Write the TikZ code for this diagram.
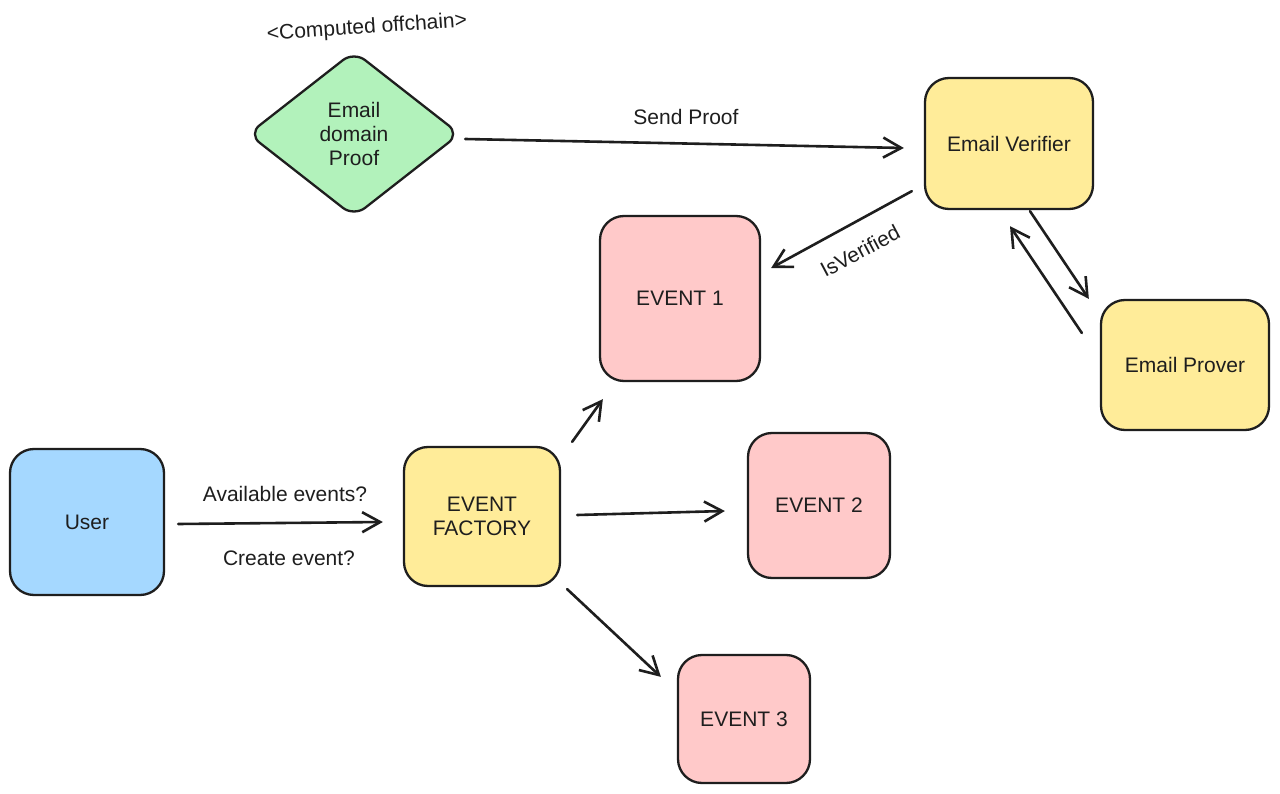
\documentclass[tikz,border=0pt]{standalone}
\usepackage{fontspec}
\setmainfont{Liberation Sans}
\usetikzlibrary{arrows.meta,shapes.geometric,calc}
\definecolor{ink}{HTML}{1E1E1E}
\definecolor{yel}{HTML}{FFEC99}
\definecolor{pnk}{HTML}{FFC9C9}
\definecolor{blu}{HTML}{A5D8FF}
\definecolor{grn}{HTML}{B2F2BB}
\begin{document}
\begin{tikzpicture}[x=1pt,y=-1pt,
  font=\fontsize{21}{24}\selectfont, text=ink,
  box/.style={draw=ink, line width=2.3pt, rounded corners=24pt, align=center, inner sep=0pt},
  conn/.style={draw=ink, line width=2.6pt, line cap=round, -{Straight Barb[length=18pt,width=20pt]}},
  lbl/.style={inner sep=0pt, text=ink}]
\useasboundingbox[fill=white] (0,0) rectangle (1280,794);

% nodes
\node[box, diamond, fill=grn, rounded corners=14pt, minimum width=212pt, minimum height=166pt] (proof) at (354,134) {Email\\domain\\Proof};
\node[box, fill=yel, minimum width=168pt, minimum height=131pt] (ver) at (1009,143.5) {Email Verifier};
\node[box, fill=yel, minimum width=168pt, minimum height=130pt] (prov) at (1185,365) {Email Prover};
\node[box, fill=pnk, minimum width=160pt, minimum height=165pt] (ev1) at (680,298.5) {EVENT 1};
\node[box, fill=pnk, minimum width=142pt, minimum height=145pt] (ev2) at (819,505.5) {EVENT 2};
\node[box, fill=pnk, minimum width=132pt, minimum height=128pt] (ev3) at (744,719) {EVENT 3};
\node[box, fill=yel, minimum width=156pt, minimum height=139pt] (fac) at (482,516.5) {EVENT\\FACTORY};
\node[box, fill=blu, minimum width=154pt, minimum height=146pt] (user) at (87,522) {User};

% labels
\node[lbl, rotate=4] (lcomp) at (367,28) {<Computed offchain>};
\node[lbl] (lsend) at (686,117) {Send Proof};
\node[lbl, rotate=28] (lver) at (860,251) {IsVerified};
\node[lbl] (lavail) at (285,494) {Available events?};
\node[lbl] (lcreate) at (289,558) {Create event?};

% connectors
\draw[conn] ($(proof.east)+(4,5)$) -- ($(ver.west)+(-20,4.5)$);
\draw[conn] ($(ver.south west)+(-12,-19)$) -- ($(ev1.east)+(10,-30.5)$);
\draw[conn] ($(ver.south)+(21,1)$) -- ($(prov.north west)+(-11,0)$);
\draw[conn] ($(prov.west)+(-18,-32)$) -- ($(ver.south)+(1,16)$);
\draw[conn] ($(user.east)+(13,2)$) -- ($(fac.west)+(-20,5.5)$);
\draw[conn] ($(fac.north east)+(11,-4)$) -- ($(ev1.south west)+(4,17)$);
\draw[conn] ($(fac.east)+(16,-1.5)$) -- ($(ev2.west)+(-22,5.5)$);
\draw[conn] ($(fac.south east)+(6,2)$) -- ($(ev3.north west)+(-16,23)$);
\end{tikzpicture}
\end{document}
